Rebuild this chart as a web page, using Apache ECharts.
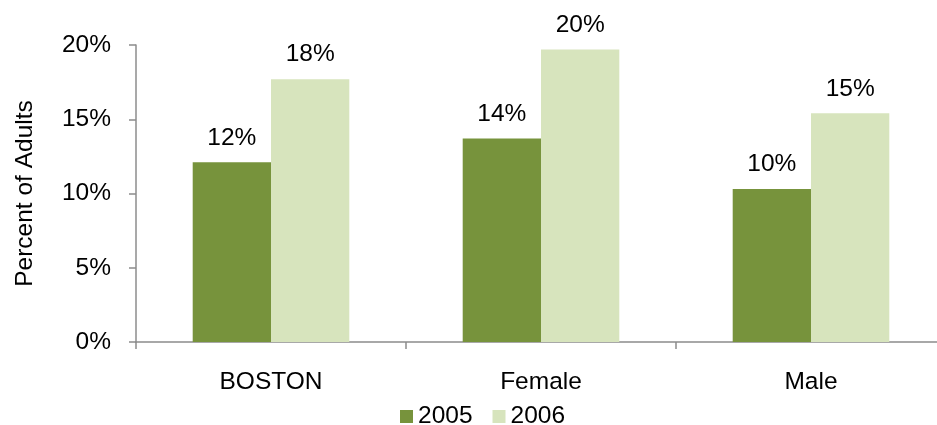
<!DOCTYPE html>
<html>
<head>
<meta charset="utf-8">
<script src="https://cdn.jsdelivr.net/npm/echarts@6/dist/echarts.min.js"></script>
<style>
  html, body { margin: 0; padding: 0; background: #fff; }
  #chart { width: 937px; height: 425px; }
</style>
</head>
<body>
<div id="chart"></div>
<script>
// categories and values (percent of adults)
var categories = ['BOSTON', 'Female', 'Male'];
var values2005 = [12.1, 13.7, 10.3];
var values2006 = [17.7, 19.7, 15.4];
var yTicks = [0, 5, 10, 15, 20];

var fontFamily = '"Liberation Sans", Arial, sans-serif';
var fontSize = 24.5;
var axisGrey = '#8c8c8c';

var chart = echarts.init(document.getElementById('chart'), null, {renderer: 'canvas'});

var labelStyle = {
  show: true,
  position: 'top',
  distance: 12,
  fontFamily: fontFamily,
  fontSize: fontSize,
  color: '#000',
  formatter: function (p) { return Math.round(p.value) + '%'; }
};

var option = {
  animation: false,
  textStyle: { fontFamily: fontFamily },
  grid: {
    left: 136,
    width: 810,
    top: 45,
    bottom: 83,
    outerBoundsMode: 'none'
  },
  legend: {
    data: ['2005', '2006'],
    top: 399,
    left: 395,
    itemWidth: 13,
    itemHeight: 13,
    itemGap: 20,
    icon: 'rect',
    textStyle: { fontFamily: fontFamily, fontSize: fontSize, color: '#000' }
  },
  xAxis: {
    type: 'category',
    data: categories,
    axisLine: { lineStyle: { color: axisGrey, width: 1.5 } },
    axisTick: { show: true, length: 7, lineStyle: { color: axisGrey, width: 1.5 } },
    axisLabel: { margin: 28, fontSize: fontSize, color: '#000', fontFamily: fontFamily }
  },
  yAxis: {
    type: 'value',
    min: yTicks[0],
    max: yTicks[yTicks.length - 1],
    interval: 5,
    name: 'Percent of Adults',
    nameLocation: 'middle',
    nameGap: 98,
    nameTextStyle: { fontSize: fontSize, color: '#000', fontFamily: fontFamily },
    splitLine: { show: false },
    axisLine: { show: true, lineStyle: { color: axisGrey, width: 1.5 } },
    axisTick: { show: true, length: 7, lineStyle: { color: axisGrey, width: 1.5 } },
    axisLabel: {
      margin: 25,
      fontSize: fontSize,
      color: '#000',
      fontFamily: fontFamily,
      formatter: '{value}%'
    }
  },
  series: [
    {
      name: '2005',
      type: 'bar',
      data: values2005,
      barWidth: '29%',
      barGap: '0%',
      itemStyle: { color: '#77933c' },
      label: labelStyle
    },
    {
      name: '2006',
      type: 'bar',
      data: values2006,
      barWidth: '29%',
      barGap: '0%',
      itemStyle: { color: '#d7e4bd' },
      label: labelStyle
    }
  ]
};

chart.setOption(option);
</script>
</body>
</html>
